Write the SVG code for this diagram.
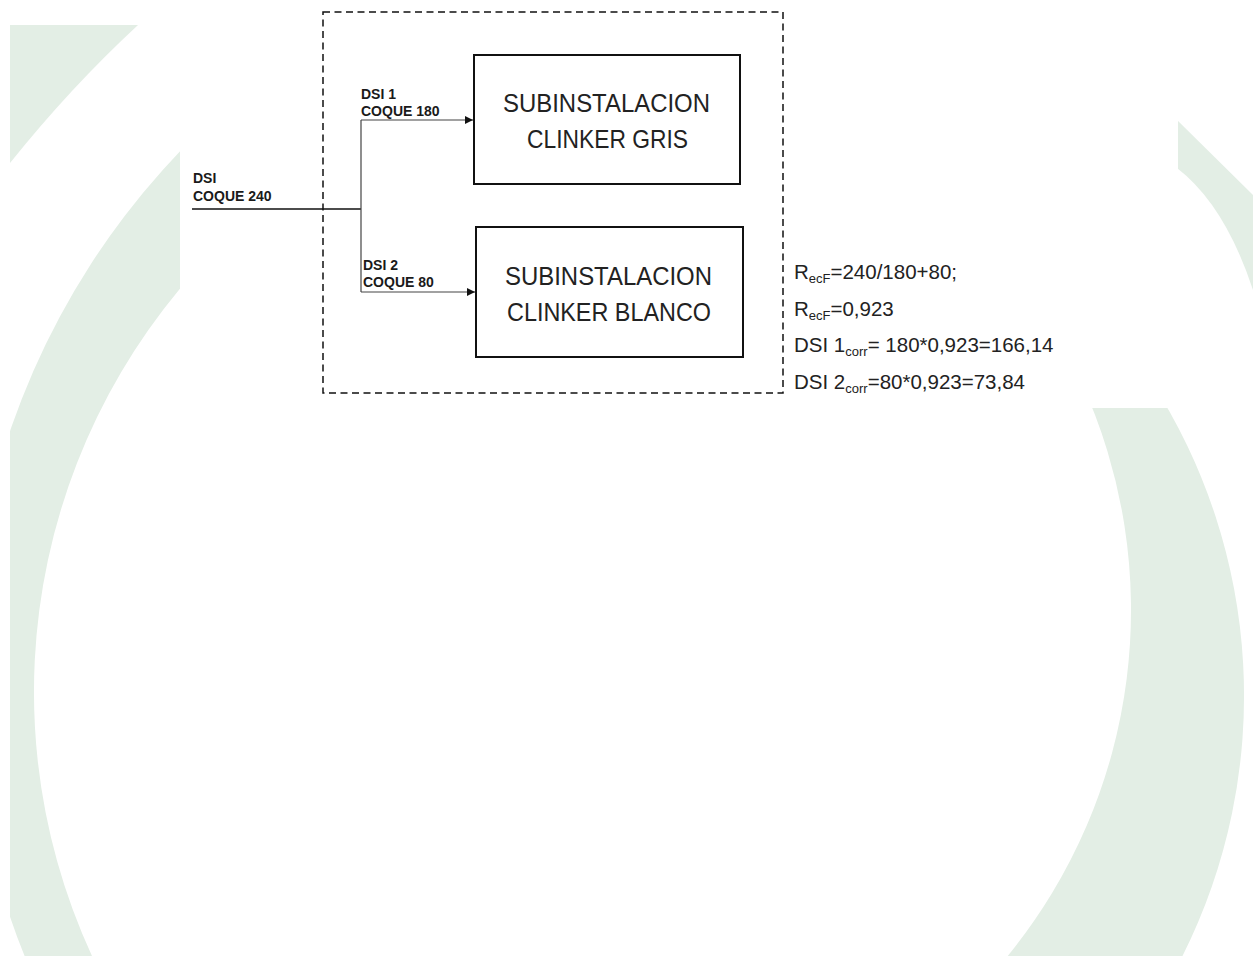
<svg xmlns="http://www.w3.org/2000/svg" width="1255" height="956" viewBox="0 0 1255 956">
  <style>
    .bg { fill: #e3eee5; }
    .box { fill: #ffffff; stroke: #111111; stroke-width: 2; }
    .frame { fill: none; stroke: #111111; stroke-width: 1.5; stroke-dasharray: 7 4.5; }
    .boxtxt { font-family: "Liberation Sans", Arial, sans-serif; font-size: 25px; fill: #222222; }
    .lbl { font-family: "Liberation Sans", Arial, sans-serif; font-size: 14px; font-weight: bold; fill: #1a1a1a; }
    .f { font-family: "Liberation Sans", Arial, sans-serif; font-size: 20.5px; fill: #222222; }
    .sub { font-size: 13px; }
    .main { fill: none; stroke: #111111; stroke-width: 1.5; }
    .branch { fill: none; stroke: #444444; stroke-width: 1.2; }
  </style>
  <defs>
    <marker id="arrow" markerUnits="userSpaceOnUse" markerWidth="9" markerHeight="8" refX="8" refY="4" orient="auto">
      <path d="M0,0 L8,4 L0,8 Z" fill="#111111"/>
    </marker>
    <clipPath id="page">
      <rect x="10" y="25" width="1243" height="931"/>
    </clipPath>
  </defs>

  <rect x="0" y="0" width="1255" height="956" fill="#ffffff"/>

  <g id="background" clip-path="url(#page)">
    <path class="bg" d="M10,25 L138,25 Q70,88 10,163 Z"/>
    <path class="bg" d="M250,87 A755,755 0 0 0 24.6,956 L92,956 A630,630 0 0 1 250,217 Z"/>
    <path class="bg" d="M1150.4,380 A580,580 0 0 1 1182.5,956 L1007.7,956 A547,547 0 0 0 1080.3,380 Z"/>
    <path class="bg" d="M1150,95 L1177,120 L1253,195 L1253,290 Q1225,205 1177,168 L1150,150 Z"/>
    <rect x="180" y="0" width="998" height="408" fill="#ffffff"/>
  </g>

  <g id="frame">
    <rect class="frame" x="323" y="12" width="460" height="381"/>
  </g>

  <g id="node-clinker-gris">
    <rect class="box" x="474" y="55" width="266" height="129"/>
    <text class="boxtxt" x="503" y="112" textLength="207" lengthAdjust="spacingAndGlyphs">SUBINSTALACION</text>
    <text class="boxtxt" x="527" y="148" textLength="161" lengthAdjust="spacingAndGlyphs">CLINKER GRIS</text>
  </g>

  <g id="node-clinker-blanco">
    <rect class="box" x="476" y="227" width="267" height="130"/>
    <text class="boxtxt" x="505" y="285" textLength="207" lengthAdjust="spacingAndGlyphs">SUBINSTALACION</text>
    <text class="boxtxt" x="507" y="321" textLength="204" lengthAdjust="spacingAndGlyphs">CLINKER BLANCO</text>
  </g>

  <g id="connectors">
    <line class="main" x1="192" y1="209" x2="361" y2="209"/>
    <line class="branch" x1="361" y1="120" x2="361" y2="292"/>
    <line class="branch" x1="361" y1="120" x2="473" y2="120" marker-end="url(#arrow)"/>
    <line class="branch" x1="361" y1="292" x2="475" y2="292" marker-end="url(#arrow)"/>
  </g>

  <g id="labels">
    <text class="lbl" x="193" y="183">DSI</text>
    <text class="lbl" x="193" y="201">COQUE 240</text>
    <text class="lbl" x="361" y="99">DSI 1</text>
    <text class="lbl" x="361" y="116">COQUE 180</text>
    <text class="lbl" x="363" y="270">DSI 2</text>
    <text class="lbl" x="363" y="287">COQUE 80</text>
  </g>

  <g id="formulas">
    <text class="f" x="794" y="279">R<tspan class="sub" dy="4">ecF</tspan><tspan dy="-4">=240/180+80;</tspan></text>
    <text class="f" x="794" y="316">R<tspan class="sub" dy="4">ecF</tspan><tspan dy="-4">=0,923</tspan></text>
    <text class="f" x="794" y="352">DSI 1<tspan class="sub" dy="4">corr</tspan><tspan dy="-4">= 180*0,923=166,14</tspan></text>
    <text class="f" x="794" y="389">DSI 2<tspan class="sub" dy="4">corr</tspan><tspan dy="-4">=80*0,923=73,84</tspan></text>
  </g>
</svg>
